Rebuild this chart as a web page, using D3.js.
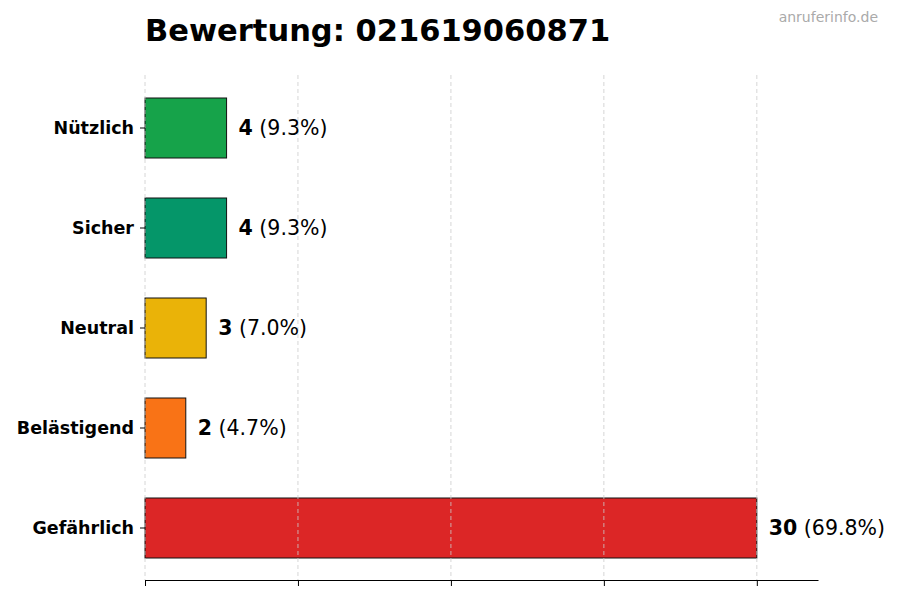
<!DOCTYPE html>
<html lang="de">
<head>
  <meta charset="UTF-8" />
  <title>Bewertung: 021619060871</title>
  <script src="https://d3js.org/d3.v7.min.js"></script>
  <style>
    body { margin: 0; padding: 0; background: #ffffff; }
    svg { display: block; font-family: "DejaVu Sans", sans-serif; }
  </style>
</head>
<body>
  <div id="chart"></div>
  <script>
    // data, top to bottom
    const categories = ["Nützlich", "Sicher", "Neutral", "Belästigend", "Gefährlich"];
    const counts = [4, 4, 3, 2, 30];
    const percents = ["9.3%", "9.3%", "7.0%", "4.7%", "69.8%"];
    const barColors = ["#16a34a", "#059669", "#eab308", "#f97316", "#dc2626"];
    const xTicks = [0, 7.5, 15, 22.5, 30];

    const width = 900, height = 600;
    const svg = d3.select("#chart").append("svg")
      .attr("width", width)
      .attr("height", height);

    const xScale = d3.scaleLinear().domain([0, 33]).range([145, 818]);
    const yScale = d3.scaleBand()
      .domain(categories)
      .range([78, 578])
      .paddingInner(0.4)
      .paddingOuter(0.2);

    const rows = categories.map((c, i) => ({
      name: c, value: counts[i], pct: percents[i], color: barColors[i]
    }));

    // bars
    svg.selectAll("rect.bar")
      .data(rows)
      .enter()
      .append("rect")
      .attr("class", "bar")
      .attr("x", xScale(0))
      .attr("y", d => yScale(d.name))
      .attr("width", d => xScale(d.value) - xScale(0))
      .attr("height", yScale.bandwidth())
      .attr("fill", d => d.color)
      .attr("stroke", "#111")
      .attr("stroke-width", 1);

    // dashed grid on top of bars
    svg.selectAll("line.grid")
      .data(xTicks)
      .enter()
      .append("line")
      .attr("class", "grid")
      .attr("x1", d => xScale(d))
      .attr("x2", d => xScale(d))
      .attr("y1", 75)
      .attr("y2", 580)
      .attr("stroke", "#cccccc")
      .attr("stroke-width", 0.8)
      .attr("stroke-dasharray", "4,3");

    // bottom axis, no labels
    const xAxis = d3.axisBottom(xScale)
      .tickValues(xTicks)
      .tickSize(6)
      .tickSizeOuter(0)
      .tickFormat("");
    const gx = svg.append("g")
      .attr("transform", "translate(0,580)")
      .call(xAxis);
    gx.select(".domain").attr("stroke", "#000").attr("stroke-width", 1.2);
    gx.selectAll(".tick line").attr("stroke", "#000");

    // left axis: tick marks + bold labels, no spine
    const yAxis = d3.axisLeft(yScale).tickSize(5).tickPadding(6);
    const gy = svg.append("g")
      .attr("transform", `translate(${xScale(0)},0)`)
      .call(yAxis);
    gy.select(".domain").remove();
    gy.selectAll(".tick line").attr("stroke", "#000");
    gy.selectAll(".tick text")
      .attr("fill", "#000")
      .style("font-size", "17.5px")
      .style("font-weight", "bold")
      .style("font-family", "DejaVu Sans, sans-serif");

    // value labels
    const labels = svg.selectAll("text.val")
      .data(rows)
      .enter()
      .append("text")
      .attr("class", "val")
      .attr("x", d => xScale(d.value) + 12)
      .attr("y", d => yScale(d.name) + yScale.bandwidth() / 2)
      .attr("dy", "0.35em")
      .style("font-size", "20.5px")
      .attr("fill", "#000");
    labels.append("tspan").style("font-weight", "bold").text(d => d.value);
    labels.append("tspan").text(d => ` (${d.pct})`);

    // title
    svg.append("text")
      .attr("x", 145)
      .attr("y", 41)
      .style("font-size", "30.5px")
      .style("font-weight", "bold")
      .attr("fill", "#000")
      .text("Bewertung: 021619060871");

    // watermark
    svg.append("text")
      .attr("x", 878)
      .attr("y", 22)
      .attr("text-anchor", "end")
      .style("font-size", "14px")
      .attr("fill", "#aaaaaa")
      .text("anruferinfo.de");
  </script>
</body>
</html>
